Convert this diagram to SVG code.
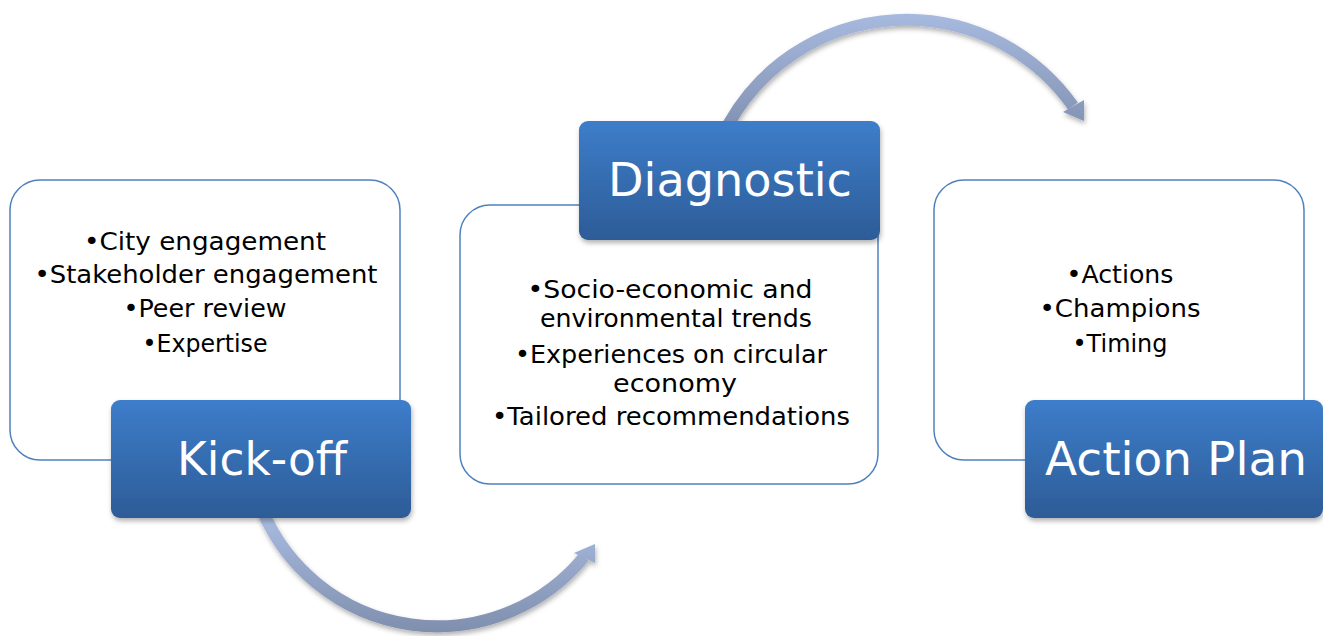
<svg xmlns="http://www.w3.org/2000/svg" width="1323" height="636" viewBox="0 0 1323 636">
  <defs>
    <linearGradient id="boxGrad" x1="0" y1="0" x2="0" y2="1">
      <stop offset="0" stop-color="#3D7DCA"/>
      <stop offset="1" stop-color="#2D5C97"/>
    </linearGradient>
    <linearGradient id="arrowTop" gradientUnits="userSpaceOnUse" x1="0" y1="10" x2="0" y2="125">
      <stop offset="0" stop-color="#A8BBE0"/>
      <stop offset="1" stop-color="#8393B4"/>
    </linearGradient>
    <linearGradient id="arrowBot" gradientUnits="userSpaceOnUse" x1="0" y1="515" x2="0" y2="634">
      <stop offset="0" stop-color="#A8BBE0"/>
      <stop offset="1" stop-color="#7F8EAD"/>
    </linearGradient>
    <filter id="shadow" x="-10%" y="-10%" width="125%" height="130%">
      <feDropShadow dx="1" dy="3" stdDeviation="2.5" flood-color="#000" flood-opacity="0.3"/>
    </filter>
  </defs>
  <style>
    .panel { fill: #FFFFFF; stroke: #4F81BD; stroke-width: 1.5; }
    .title { fill: url(#boxGrad); filter: url(#shadow); }
    .ttext { font-family: "DejaVu Sans", sans-serif; font-size: 46px; fill: #FFFFFF; text-anchor: middle; }
    .btext { font-family: "DejaVu Sans", sans-serif; font-size: 24px; fill: #000000; text-anchor: middle; }
  </style>
  <rect width="1323" height="636" fill="#FFFFFF"/>

  <g id="connectors" filter="url(#shadow)">
    <g id="arrow-kickoff-diagnostic">
      <path d="M 263 512 A 190 190 0 0 0 584 557" fill="none" stroke="url(#arrowBot)" stroke-width="12"/>
      <polygon points="574,553 595,544 595,563" fill="url(#arrowBot)"/>
    </g>
    <g id="arrow-diagnostic-actionplan">
      <path d="M 728 125 A 204 204 0 0 1 1073 106" fill="none" stroke="url(#arrowTop)" stroke-width="12"/>
      <polygon points="1063,112 1084,100 1084,121" fill="url(#arrowTop)"/>
    </g>
  </g>

  <g id="kickoff">
    <rect class="panel" x="10" y="180" width="390" height="280" rx="30"/>
    <text class="btext" x="205" y="250" textLength="242" lengthAdjust="spacingAndGlyphs">•City engagement</text>
    <text class="btext" x="206" y="283" textLength="343" lengthAdjust="spacingAndGlyphs">•Stakeholder engagement</text>
    <text class="btext" x="205" y="317" textLength="163" lengthAdjust="spacingAndGlyphs">•Peer review</text>
    <text class="btext" x="205" y="352" textLength="125" lengthAdjust="spacingAndGlyphs">•Expertise</text>
    <rect class="title" x="111" y="400" width="300" height="118" rx="9"/>
    <text class="ttext" x="262" y="475" textLength="170" lengthAdjust="spacingAndGlyphs">Kick-off</text>
  </g>

  <g id="diagnostic">
    <rect class="panel" x="460" y="205" width="418" height="279" rx="30"/>
    <text class="btext" x="670" y="298" textLength="285" lengthAdjust="spacingAndGlyphs">•Socio-economic and</text>
    <text class="btext" x="676" y="327" textLength="272" lengthAdjust="spacingAndGlyphs">environmental trends</text>
    <text class="btext" x="671" y="363" textLength="312" lengthAdjust="spacingAndGlyphs">•Experiences on circular</text>
    <text class="btext" x="675" y="392" textLength="124" lengthAdjust="spacingAndGlyphs">economy</text>
    <text class="btext" x="671" y="425" textLength="358" lengthAdjust="spacingAndGlyphs">•Tailored recommendations</text>
    <rect class="title" x="579" y="121" width="301" height="119" rx="9"/>
    <text class="ttext" x="730" y="196" textLength="244" lengthAdjust="spacingAndGlyphs">Diagnostic</text>
  </g>

  <g id="actionplan">
    <rect class="panel" x="934" y="180" width="370" height="280" rx="30"/>
    <text class="btext" x="1120" y="283" textLength="107" lengthAdjust="spacingAndGlyphs">•Actions</text>
    <text class="btext" x="1120" y="317" textLength="161" lengthAdjust="spacingAndGlyphs">•Champions</text>
    <text class="btext" x="1120" y="352" textLength="95" lengthAdjust="spacingAndGlyphs">•Timing</text>
    <rect class="title" x="1025" y="400" width="298" height="118" rx="9"/>
    <text class="ttext" x="1176" y="475" textLength="262" lengthAdjust="spacingAndGlyphs">Action Plan</text>
  </g>
</svg>
